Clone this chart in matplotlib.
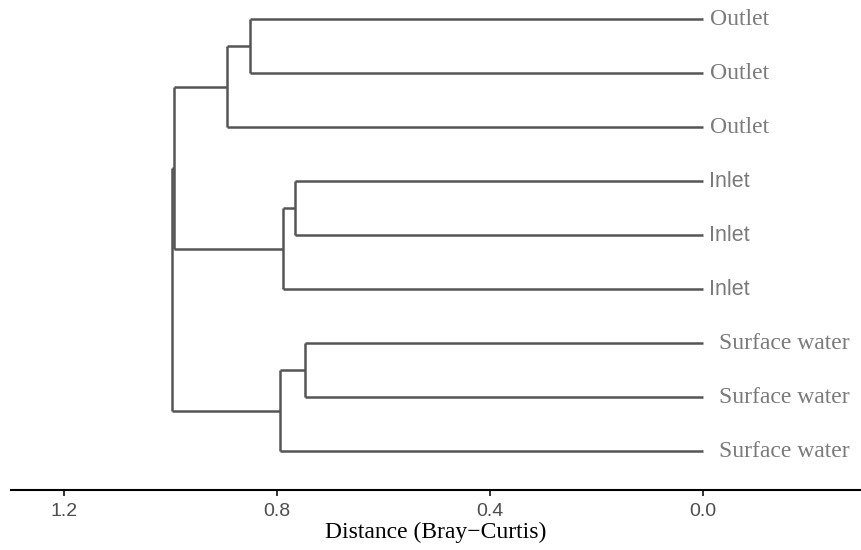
import matplotlib
matplotlib.use("Agg")
import matplotlib.pyplot as plt

# leaves, top to bottom
labels = ["Outlet", "Outlet", "Outlet", "Inlet", "Inlet", "Inlet",
          "Surface water", "Surface water", "Surface water"]
# merges: child a, child b, height (Bray-Curtis); new clusters numbered 9, 10, ...
merge_a = [0, 9, 3, 11, 10, 6, 14, 13]
merge_b = [1, 2, 4, 5, 12, 7, 8, 15]
merge_h = [0.851, 0.894, 0.766, 0.789, 0.993, 0.747, 0.794, 0.998]
xticks = [1.2, 0.8, 0.4, 0.0]

line_col = "#555555"
fig = plt.figure(figsize=(8.61, 5.5), dpi=100)
ax = fig.add_axes([11/861, 60/550, 850/861, 490/550])

ypos = {i: i + 1 for i in range(len(labels))}
hgt = {i: 0.0 for i in range(len(labels))}
for k, (a, b, h) in enumerate(zip(merge_a, merge_b, merge_h)):
    node = len(labels) + k
    ax.plot([h, h], [ypos[a], ypos[b]], color=line_col, lw=1.8, solid_capstyle="butt")
    ax.plot([hgt[a], h], [ypos[a], ypos[a]], color=line_col, lw=1.8, solid_capstyle="butt")
    ax.plot([hgt[b], h], [ypos[b], ypos[b]], color=line_col, lw=1.8, solid_capstyle="butt")
    ypos[node] = (ypos[a] + ypos[b]) / 2
    hgt[node] = h

for i, lab in enumerate(labels):
    if lab == "Inlet":
        ax.text(-0.011, ypos[i], lab, ha="left", va="center", color="#7a7a7a",
                fontsize=15.5, family=["Liberation Sans", "DejaVu Sans"])
    elif lab == "Outlet":
        ax.text(-0.013, ypos[i], lab, ha="left", va="center", color="#7a7a7a",
                fontsize=17, family=["Liberation Serif", "DejaVu Serif"])
    else:
        ax.text(-0.031, ypos[i], lab, ha="left", va="center", color="#7a7a7a",
                fontsize=17, family=["Liberation Serif", "DejaVu Serif"])

ax.set_xlim(1.2995, -0.297)
ax.set_ylim(9.72, 0.648)
ax.set_yticks([])
for s in ["top", "left", "right"]:
    ax.spines[s].set_visible(False)
ax.spines["bottom"].set_color("black")
ax.spines["bottom"].set_linewidth(1.5)
ax.set_xticks(xticks)
ax.set_xticklabels([f"{v:.1f}" for v in xticks], color="#4d4d4d", fontsize=14,
                   family=["Liberation Sans", "DejaVu Sans"])
ax.tick_params(axis="x", length=4, width=1.4, color="#333333", pad=5)
ax.set_xlabel("Distance (Bray\u2212Curtis)", fontsize=17, color="black",
              family=["Liberation Serif", "DejaVu Serif"], labelpad=2)

fig.savefig("out.png", dpi=100)
